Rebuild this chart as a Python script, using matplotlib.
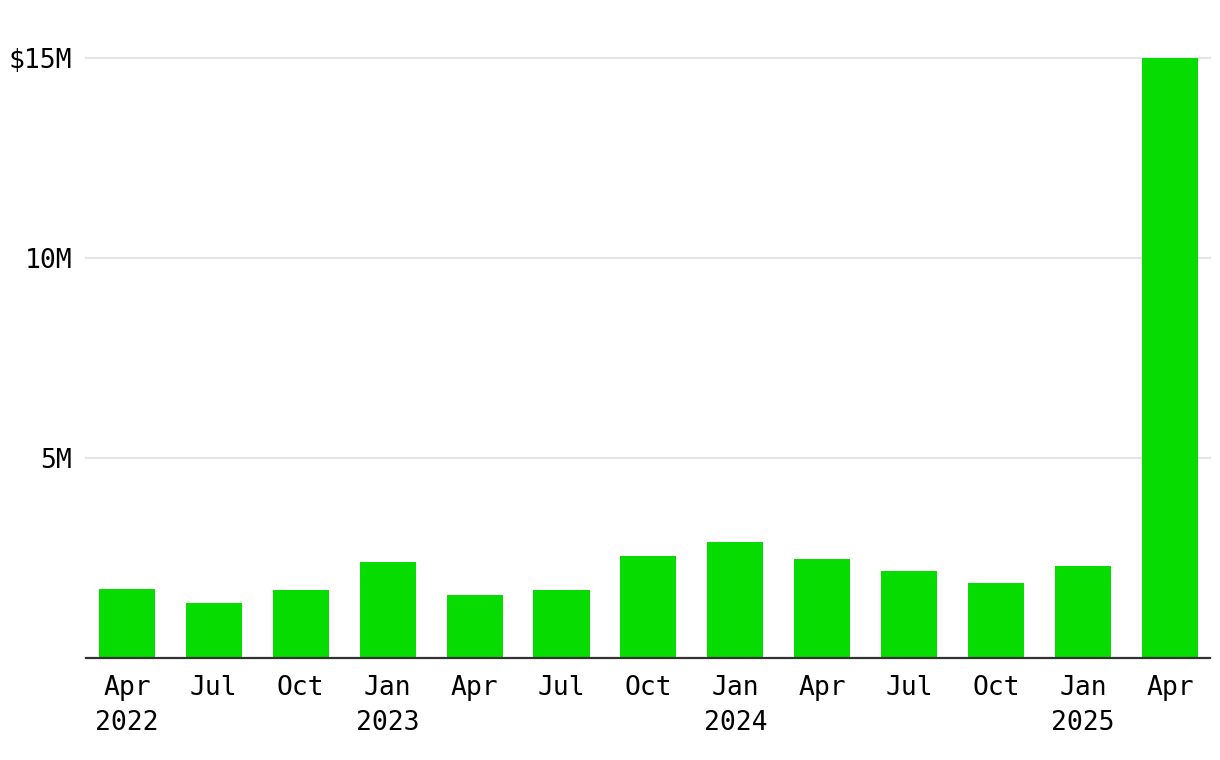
import matplotlib
matplotlib.use("Agg")
import matplotlib.pyplot as plt
from matplotlib.ticker import FuncFormatter

months = ["Apr", "Jul", "Oct", "Jan", "Apr", "Jul", "Oct", "Jan", "Apr", "Jul", "Oct", "Jan", "Apr"]
years = ["2022", "", "", "2023", "", "", "", "2024", "", "", "", "2025", ""]
values = [1.72, 1.37, 1.70, 2.40, 1.57, 1.70, 2.55, 2.90, 2.47, 2.17, 1.87, 2.30, 15.0]  # millions USD
y_ticks = [5, 10, 15]

fig = plt.figure(figsize=(12.2, 7.6), dpi=100)
ax = fig.add_axes([86/1220, 102/760, (1210-86)/1220, (658-58)/760])

x = list(range(len(values)))
ax.bar(x, values, width=0.645, color="#06dc00", zorder=3, clip_on=False)

ax.set_xlim(-0.47, len(values) - 1 + 0.46)
ax.set_ylim(0, 15)
ax.set_yticks(y_ticks)
ax.yaxis.set_major_formatter(FuncFormatter(lambda v, p: f"${v:.0f}M" if v == 15 else f"{v:.0f}M"))
ax.grid(axis="y", color="#e5e5e5", linewidth=1.6, zorder=0)
for gl in ax.get_ygridlines():
    gl.set_clip_on(False)
ax.set_xticks(x)
ax.set_xticklabels([m + ("\n" + y if y else "") for m, y in zip(months, years)], linespacing=1.45,
                   va="top")
for lab in ax.get_xticklabels() + ax.get_yticklabels():
    lab.set_fontfamily("DejaVu Sans Mono")
    lab.set_fontsize(19)
    lab.set_color("black")
ax.tick_params(axis="both", length=0)
ax.tick_params(axis="x", pad=12)
ax.tick_params(axis="y", pad=10)
for s in ["top", "right", "left"]:
    ax.spines[s].set_visible(False)
ax.spines["bottom"].set_color("#333333")
ax.spines["bottom"].set_linewidth(1.6)
ax.spines["bottom"].set_zorder(4)

fig.savefig("out.png", dpi=100, facecolor="white")
